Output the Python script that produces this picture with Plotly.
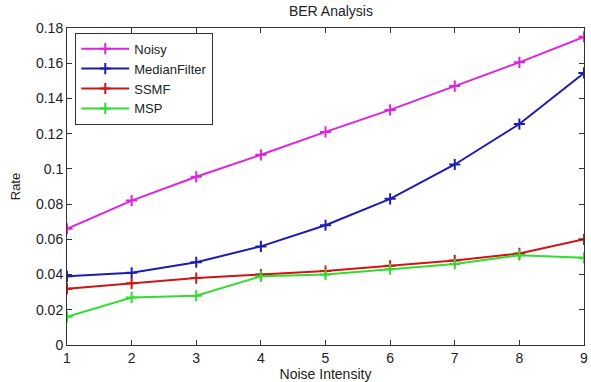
import plotly.graph_objects as go

# Bit error rate versus noise intensity for each denoising method
noise_intensity = [1, 2, 3, 4, 5, 6, 7, 8, 9]
noisy = [0.066, 0.082, 0.0955, 0.108, 0.121, 0.1335, 0.147, 0.1605, 0.175]
median_filter = [0.039, 0.041, 0.047, 0.056, 0.068, 0.083, 0.1025, 0.1255, 0.1545]
ssmf = [0.032, 0.035, 0.038, 0.040, 0.042, 0.045, 0.048, 0.052, 0.060]
msp = [0.016, 0.027, 0.028, 0.039, 0.040, 0.043, 0.046, 0.051, 0.0495]

series = [
    ("Noisy", noisy, "#e022e0"),
    ("MedianFilter", median_filter, "#1c1cb0"),
    ("SSMF", ssmf, "#d01414"),
    ("MSP", msp, "#30dd30"),
]

font = "Liberation Sans, Arial, sans-serif"

fig = go.Figure()
for name, values, color in series:
    fig.add_trace(go.Scatter(
        x=noise_intensity, y=values, name=name,
        mode="lines+markers",
        line=dict(color=color, width=2),
        marker=dict(symbol="cross-thin", size=8, line=dict(color=color, width=2)),
    ))

axis_common = dict(
    showgrid=False, zeroline=False,
    showline=True, linecolor="#333333", linewidth=1, mirror="ticks",
    ticks="inside", ticklen=5, tickcolor="#333333",
    tickfont=dict(family=font, size=14, color="#222222"),
)

fig.update_layout(
    width=591, height=382,
    margin=dict(l=67, r=3, t=28, b=36),
    paper_bgcolor="white", plot_bgcolor="white",
    title=dict(text="BER Analysis", x=0.56, xanchor="center", y=0.985, yanchor="top",
               font=dict(family=font, size=14, color="#222222")),
    xaxis=dict(range=[1, 9], tickvals=noise_intensity, ticklabeloverflow="allow", **axis_common,
               title=dict(text="Noise Intensity", standoff=3,
                          font=dict(family=font, size=14, color="#222222"))),
    yaxis=dict(range=[0, 0.18], tickvals=[0, 0.02, 0.04, 0.06, 0.08, 0.1, 0.12, 0.14, 0.16, 0.18],
               ticktext=["0", "0.02", "0.04", "0.06", "0.08", "0.1", "0.12", "0.14", "0.16", "0.18"],
               **axis_common,
               title=dict(text="Rate", standoff=12,
                          font=dict(family=font, size=13, color="#222222"))),
    legend=dict(x=0.016, y=0.985, xanchor="left", yanchor="top",
                bgcolor="white", bordercolor="#333333", borderwidth=1,
                font=dict(family=font, size=13, color="#222222"),
                tracegroupgap=0, itemwidth=48),
    showlegend=True,
)

fig.write_html("out.html")
